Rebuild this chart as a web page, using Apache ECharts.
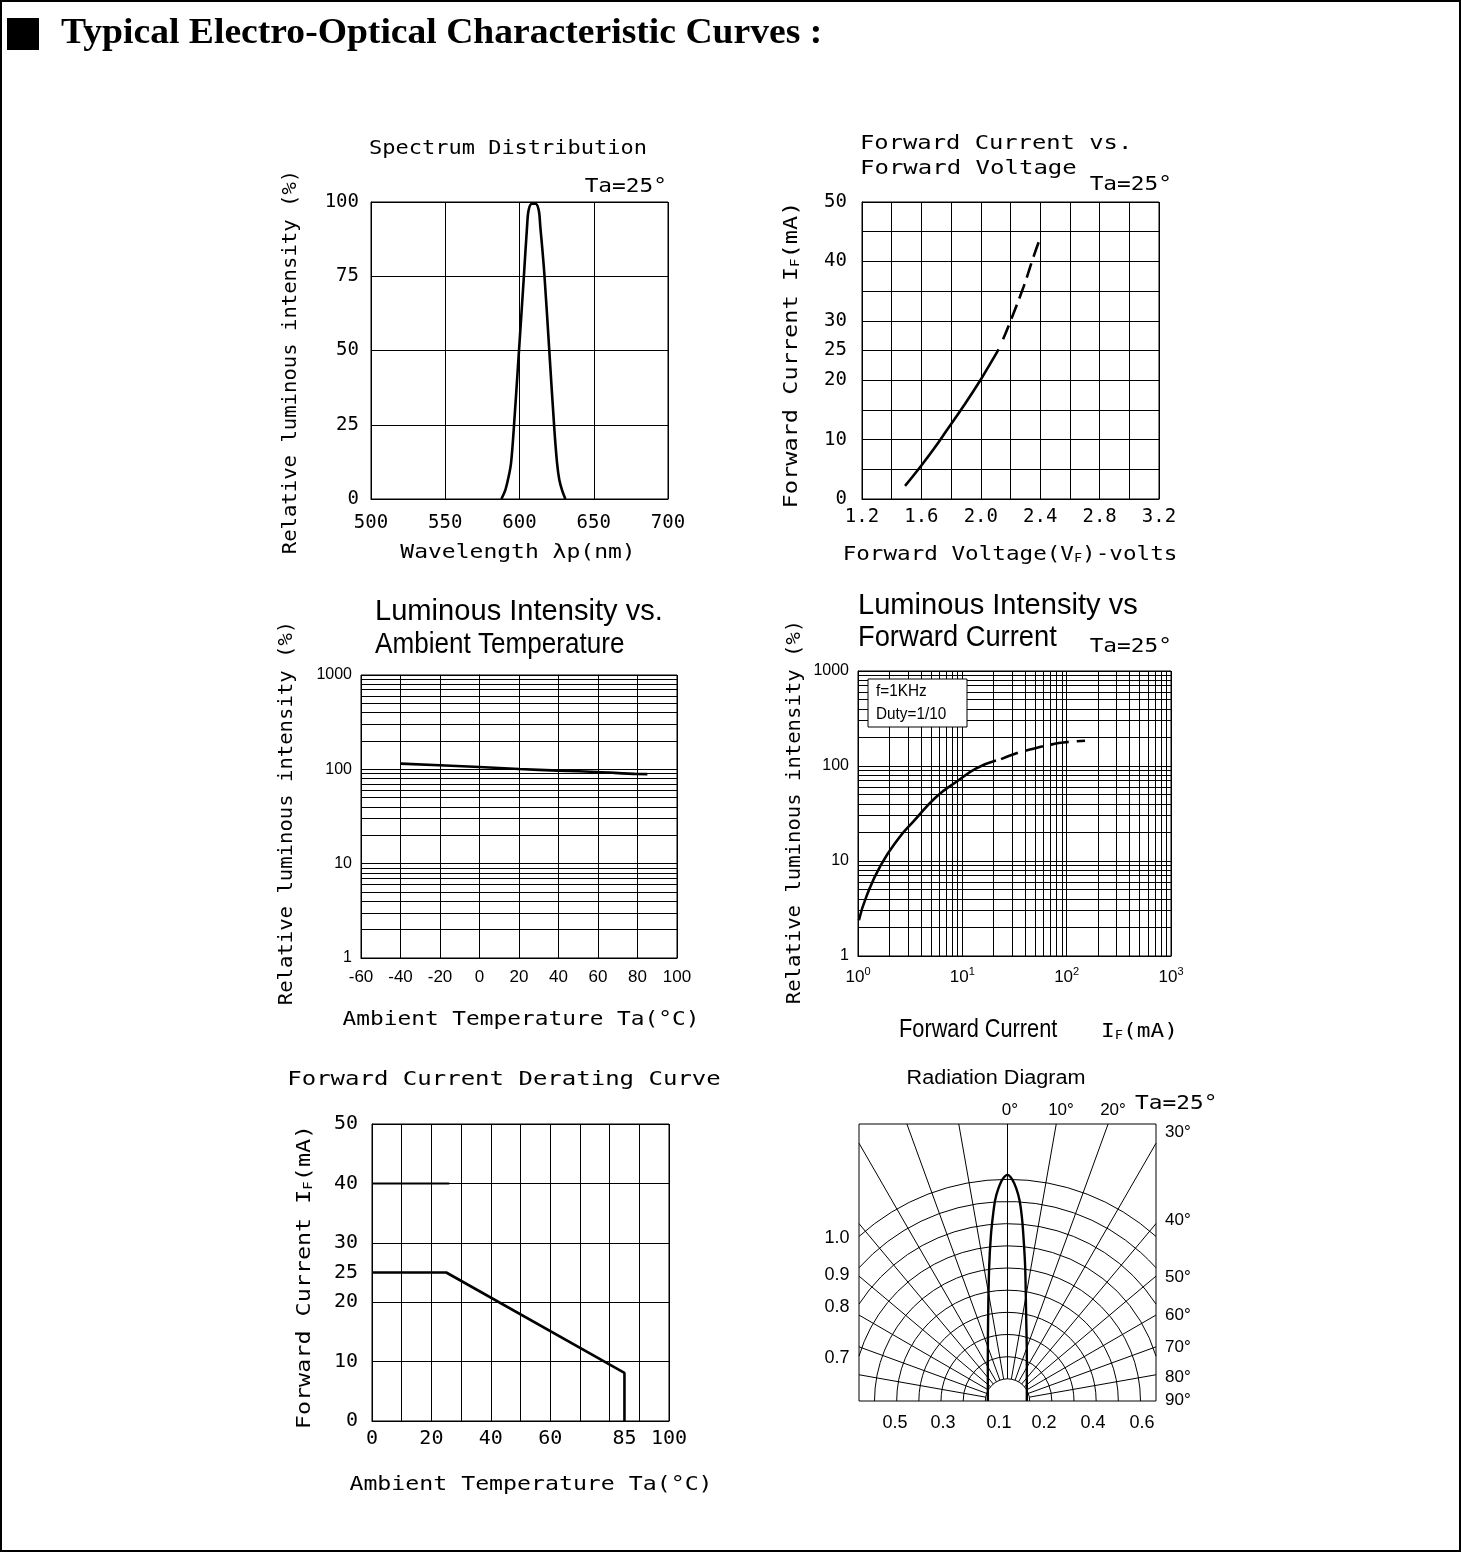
<!DOCTYPE html>
<html><head><meta charset="utf-8">
<script src="https://cdn.jsdelivr.net/npm/echarts@6/dist/echarts.min.js"></script>
<style>html,body{margin:0;padding:0;background:#fff}#c{width:1461px;height:1552px}</style>
</head><body><div id="c"></div>
<script>
// ---------------- DATA ----------------
const pageTitle = 'Typical Electro-Optical Characteristic Curves :';

// Spectrum distribution
const specWavelength = [587.8, 590.5, 592.7, 594.3, 596.1, 599.4, 602.8, 605.1, 606.2, 608.4, 610.7, 612.9, 614.0, 616.7, 620.3, 623.5, 625.3, 626.8, 628.6, 630.9];
const specRelative   = [0, 3.1, 7.6, 12.1, 23.3, 48, 73.8, 91.8, 97.4, 99.4, 99.4, 97.4, 91.8, 76, 48, 23.3, 12.1, 6.5, 3.1, 0];

// Forward current vs forward voltage
const fvSolidV = [1.49, 1.58, 1.683, 1.772, 1.885, 1.997, 2.064, 2.12];
const fvSolidI = [2.2, 5.0, 8.4, 11.6, 15.7, 20.0, 22.8, 25.2];
const fvDashV  = [2.15, 2.199, 2.289, 2.356, 2.396];
const fvDashI  = [26.9, 29.9, 35.8, 40.85, 43.66];
const fvXLabels = [1.2, 1.6, 2.0, 2.4, 2.8, 3.2];
const fvYLabels = [0, 10, 20, 25, 30, 40, 50];

// Luminous intensity vs ambient temperature
const tempT   = [-40, 0, 20, 40, 60, 80, 85];
const tempRel = [115, 106, 100.8, 96.8, 93.7, 89.2, 89];

// Luminous intensity vs forward current
const ifSolidI   = [1.02, 1.2, 1.65, 2.51, 3.37, 5.64, 8.78, 13.6, 21.0];
const ifSolidRel = [2.38, 4.19, 9.0, 17.9, 25.8, 47.4, 68.2, 94.2, 114];
const ifDashI    = [23.5, 34.3, 44.4, 74.3, 92.7, 150];
const ifDashRel  = [118, 138, 149, 170, 177, 184.5];

// Log grid minor ticks
const logDecades = [1, 10, 100];
const logMantissas = [2, 3, 4, 5, 6, 7, 8, 9];
const logMinorTicks = logDecades.flatMap(d => logMantissas.map(m => m * d));

// Derating curve
const deratT = [0, 25, 85, 85];
const deratI = [25, 25, 8.1, 0];
const limitT = [0, 26];
const limitI = [40, 40];
const deratXLabels = [0, 20, 40, 60, 85, 100];
const deratYLabels = [0, 10, 20, 25, 30, 40, 50];

// Radiation diagram (grid units: one ring spacing = 1)
const ringRadii = [1, 2, 3, 4, 5, 6, 7, 8, 9, 10];
const spokeAngles = [-80, -70, -60, -50, -40, -30, -20, -10, 0, 10, 20, 30, 40, 50, 60, 70, 80];
const lobeX = [-0.887, -0.887, -0.872, -0.827, -0.752, -0.662, -0.556, -0.406, -0.226, 0, 0.21, 0.39, 0.54, 0.647, 0.72, 0.797, 0.84, 0.872, 0.872];
const lobeY = [0, 1.985, 3.94, 6.04, 7.40, 8.30, 9.05, 9.58, 9.98, 10.18, 9.98, 9.58, 9.05, 8.30, 7.40, 6.04, 3.94, 1.985, 0];
const radXMax = 6.7, radYMax = 12.47;
const radTopLabels = ['0°', '10°', '20°'];
const radRightLabels = ['30°', '40°', '50°', '60°', '70°', '80°', '90°'];
const radLeftLabels = ['1.0', '0.9', '0.8', '0.7'];
const radBottomLabels = ['0.5', '0.3', '0.1', '0.2', '0.4', '0.6'];

// ---------------- STYLE ----------------
const MONO = "'DejaVu Sans Mono', monospace";
const NARROW = "'Liberation Sans', Arial, sans-serif";
const SANS = "'Liberation Sans', Arial, sans-serif";
const BLACK = '#000';
const axisLine = { show: true, lineStyle: { color: BLACK, width: 1 } };
const split = { show: true, lineStyle: { color: BLACK, width: 1, type: 'solid' } };
const noTick = { show: false };
const curve = { color: BLACK, width: 2.6 };

function lbl(fontFamily, fontSize, margin, formatter) {
  const o = { color: BLACK, fontFamily, fontSize, margin, showMinLabel: true, showMaxLabel: true };
  if (formatter) o.formatter = formatter;
  return o;
}
const inList = (list) => (v) => list.some(l => Math.abs(l - v) < 1e-6);
const plain = v => String(Math.round(v));

const grids = [
  { left: 371, top: 202, width: 297, height: 297 },
  { left: 862, top: 202, width: 297, height: 297 },
  { left: 361, top: 675, width: 316, height: 283 },
  { left: 858, top: 671, width: 313, height: 285 },
  { left: 372, top: 1124, width: 297, height: 297 },
  { left: 859, top: 1124, width: 297, height: 277 }
].map(g => Object.assign({ show: true, borderColor: BLACK, borderWidth: 1, backgroundColor: 'transparent', containLabel: false }, g));

const xAxis = [
  { gridIndex: 0, type: 'value', min: 500, max: 700, interval: 50, axisLine, axisTick: noTick, splitLine: split, axisLabel: lbl(MONO, 19, 15) },
  { gridIndex: 1, type: 'value', min: 1.2, max: 3.2, interval: 0.2, axisLine, axisTick: noTick, splitLine: split,
    axisLabel: lbl(MONO, 19, 9, v => inList(fvXLabels)(v) ? v.toFixed(1) : '') },
  { gridIndex: 2, type: 'value', min: -60, max: 100, interval: 20, axisLine, axisTick: noTick, splitLine: split, axisLabel: lbl(NARROW, 17, 11) },
  { gridIndex: 3, type: 'log', logBase: 10, min: 1, max: 1000, axisLine, axisTick: noTick, splitLine: split,
    axisLabel: Object.assign(lbl(NARROW, 17, 10, v => '{b|10}{s|' + Math.round(Math.log10(v)) + '}'), {
      rich: { b: { fontFamily: NARROW, fontSize: 17, color: BLACK, lineHeight: 22 },
              s: { fontFamily: NARROW, fontSize: 11, color: BLACK, verticalAlign: 'top', lineHeight: 22 } } }) },
  { gridIndex: 4, type: 'value', position: 'bottom', min: 0, max: 100, interval: 10, axisLine, axisTick: noTick, splitLine: split,
    axisLabel: lbl(MONO, 20, 8, v => inList(deratXLabels)(v) ? String(v) : '') },
  { gridIndex: 4, type: 'value', position: 'bottom', offset: 0, min: 0, max: 100, interval: 5, axisLine: { show: false }, axisTick: noTick, splitLine: { show: false },
    axisLabel: lbl(MONO, 20, 8, v => (inList(deratXLabels)(v) && v % 10 !== 0) ? String(v) : '') },
  { gridIndex: 5, type: 'value', min: -radXMax, max: radXMax, show: false }
];

const yAxis = [
  { gridIndex: 0, type: 'value', min: 0, max: 100, interval: 25, axisLine, axisTick: noTick, splitLine: split, axisLabel: lbl(MONO, 19, 12) },
  { gridIndex: 1, type: 'value', min: 0, max: 50, interval: 5, axisLine, axisTick: noTick, splitLine: split,
    axisLabel: lbl(MONO, 19, 15, v => inList(fvYLabels)(v) ? String(v) : '') },
  { gridIndex: 2, type: 'log', logBase: 10, min: 1, max: 1000, axisLine, axisTick: noTick, splitLine: split, axisLabel: lbl(NARROW, 16, 9, plain) },
  { gridIndex: 3, type: 'log', logBase: 10, min: 1, max: 1000, axisLine, axisTick: noTick, splitLine: split, axisLabel: lbl(NARROW, 16, 9, plain) },
  { gridIndex: 4, type: 'value', position: 'left', min: 0, max: 50, interval: 10, axisLine, axisTick: noTick, splitLine: split,
    axisLabel: lbl(MONO, 20, 14, v => inList(deratYLabels)(v) ? String(v) : '') },
  { gridIndex: 4, type: 'value', position: 'left', offset: 0, min: 0, max: 50, interval: 25, axisLine: { show: false }, axisTick: noTick, splitLine: { show: false },
    axisLabel: lbl(MONO, 20, 14, v => (inList(deratYLabels)(v) && v % 10 !== 0) ? String(v) : '') },
  { gridIndex: 5, type: 'value', min: 0, max: radYMax, show: false }
];

const zip = (a, b) => a.map((v, i) => [v, b[i]]);
const minorLine = (list, key) => list.map(v => ({ [key]: v }));
const markLineBase = { silent: true, symbol: ['none', 'none'], label: { show: false }, animation: false,
  lineStyle: { color: BLACK, width: 1, type: 'solid', opacity: 1 }, emphasis: { disabled: true } };

const series = [
  { type: 'line', xAxisIndex: 0, yAxisIndex: 0, data: zip(specWavelength, specRelative), smooth: 0.35, symbol: 'none', lineStyle: curve },
  { type: 'line', xAxisIndex: 1, yAxisIndex: 1, data: zip(fvSolidV, fvSolidI), smooth: 0.5, symbol: 'none', lineStyle: curve },
  { type: 'line', xAxisIndex: 1, yAxisIndex: 1, data: zip(fvDashV, fvDashI), smooth: 0.5, symbol: 'none', lineStyle: Object.assign({ type: [15, 7] }, curve) },
  { type: 'line', xAxisIndex: 2, yAxisIndex: 2, data: zip(tempT, tempRel), smooth: 0.3, symbol: 'none', lineStyle: curve, z: 3,
    markLine: Object.assign({ data: minorLine(logMinorTicks, 'yAxis') }, markLineBase) },
  { type: 'line', xAxisIndex: 3, yAxisIndex: 3, data: zip(ifSolidI, ifSolidRel), smooth: 0.5, symbol: 'none', lineStyle: curve,
    markLine: Object.assign({ data: minorLine(logMinorTicks, 'xAxis').concat(minorLine(logMinorTicks, 'yAxis')) }, markLineBase) },
  { type: 'line', xAxisIndex: 3, yAxisIndex: 3, data: zip(ifDashI, ifDashRel), smooth: 0.5, symbol: 'none', lineStyle: Object.assign({ type: [18, 8] }, curve) },
  { type: 'line', xAxisIndex: 4, yAxisIndex: 4, data: zip(deratT, deratI), symbol: 'none', lineStyle: curve },
  { type: 'line', xAxisIndex: 4, yAxisIndex: 4, data: zip(limitT, limitI), symbol: 'none', lineStyle: { color: BLACK, width: 2 } },
  { type: 'custom', xAxisIndex: 6, yAxisIndex: 6, silent: true, data: ringRadii.map(r => [0, 0, r]),
    renderItem: (params, api) => {
      const r = api.value(2);
      const c = api.coord([0, 0]);
      const rp = api.size([r, 0])[0];
      const half = api.size([radXMax, 0])[0];
      const th = rp > half ? Math.acos(half / rp) : 0;
      return { type: 'arc', shape: { cx: c[0], cy: c[1], r: rp, startAngle: Math.PI + th, endAngle: 2 * Math.PI - th, clockwise: true },
               style: { stroke: BLACK, lineWidth: 1, fill: null } };
    } },
  { type: 'custom', xAxisIndex: 6, yAxisIndex: 6, silent: true, data: spokeAngles.map(a => [0, 0, a]),
    renderItem: (params, api) => {
      const a = api.value(2) * Math.PI / 180;
      const s = Math.sin(a), co = Math.cos(a);
      const tx = Math.abs(s) > 1e-9 ? radXMax / Math.abs(s) : Infinity;
      const ty = co > 1e-9 ? radYMax / co : Infinity;
      const t = Math.min(tx, ty);
      const r0 = ringRadii[0];
      const p1 = api.coord([s * r0, co * r0]);
      const p2 = api.coord([s * t, co * t]);
      return { type: 'line', shape: { x1: p1[0], y1: p1[1], x2: p2[0], y2: p2[1] }, style: { stroke: BLACK, lineWidth: 1 } };
    } },
  { type: 'line', xAxisIndex: 6, yAxisIndex: 6, data: zip(lobeX, lobeY), smooth: 0.3, symbol: 'none', lineStyle: { color: BLACK, width: 2.4 }, z: 5 }
];

// ---------------- TEXT (graphic) ----------------
function T(x, y, text, fontFamily, fontSize, opt) {
  opt = opt || {};
  const style = { text, fontFamily, fontSize, fontWeight: opt.weight || 'normal', fill: BLACK,
                  align: opt.align || 'center', verticalAlign: opt.va || 'middle' };
  if (opt.rich) style.rich = opt.rich;
  return { type: 'text', x, y, rotation: opt.rot || 0, scaleX: opt.sx || 1, z: 100, silent: true, style };
}
const ROT = Math.PI / 2;
const subRich = { a: { fontFamily: MONO, fontSize: 20, fill: BLACK }, s: { fontFamily: MONO, fontSize: 12, fill: BLACK, verticalAlign: 'bottom' } };
const ifName = '{a|Forward Current I}{s|F}{a|(mA)}';

const graphic = [
  { type: 'rect', shape: { x: 1, y: 1, width: 1459, height: 1550 }, style: { fill: null, stroke: BLACK, lineWidth: 2 }, z: 100, silent: true },
  { type: 'rect', shape: { x: 7, y: 18, width: 32, height: 32 }, style: { fill: BLACK }, z: 100, silent: true },
  T(61, 34, pageTitle, "'Liberation Serif', 'Times New Roman', serif", 36, { align: 'left', weight: 'bold', sx: 1.045 }),

  // panel 1
  T(508, 149, 'Spectrum Distribution', MONO, 20, { sx: 1.1 }),
  T(667, 187, 'Ta=25°', MONO, 20, { align: 'right', sx: 1.14 }),
  T(291, 362, 'Relative luminous intensity (%)', MONO, 20, { rot: ROT, sx: 1.03 }),
  T(518, 553, 'Wavelength λp(nm)', MONO, 20, { sx: 1.15 }),

  // panel 2
  T(860, 144, 'Forward Current vs.', MONO, 20, { align: 'left', sx: 1.19 }),
  T(860, 169, 'Forward Voltage', MONO, 20, { align: 'left', sx: 1.2 }),
  T(1172, 185, 'Ta=25°', MONO, 20, { align: 'right', sx: 1.14 }),
  T(792, 355, ifName, MONO, 20, { rot: ROT, sx: 1.18, rich: subRich }),
  T(1010, 555, '{a|Forward Voltage(V}{s|F}{a|)-volts}', MONO, 20, { sx: 1.13, rich: subRich }),

  // panel 3
  T(375, 612, 'Luminous Intensity vs.', SANS, 30, { align: 'left', sx: 0.97 }),
  T(375, 645, 'Ambient Temperature', SANS, 30, { align: 'left', sx: 0.87 }),
  T(287, 813, 'Relative luminous intensity (%)', MONO, 20, { rot: ROT, sx: 1.03 }),
  T(521, 1020, 'Ambient Temperature Ta(°C)', MONO, 20, { sx: 1.14 }),

  // panel 4
  T(858, 606, 'Luminous Intensity vs', SANS, 30, { align: 'left', sx: 0.97 }),
  T(858, 638, 'Forward Current', SANS, 30, { align: 'left', sx: 0.91 }),
  T(1172, 647, 'Ta=25°', MONO, 20, { align: 'right', sx: 1.14 }),
  T(795, 812, 'Relative luminous intensity (%)', MONO, 20, { rot: ROT, sx: 1.03 }),
  T(899, 1030, 'Forward Current', SANS, 25, { align: 'left', sx: 0.87 }),
  T(1101, 1032, '{a|I}{s|F}{a|(mA)}', MONO, 20, { align: 'left', sx: 1.14, rich: subRich }),
  { type: 'rect', shape: { x: 868, y: 679, width: 99, height: 48 }, style: { fill: '#fff', stroke: BLACK, lineWidth: 1 }, z: 99, silent: true },
  T(876, 691, 'f=1KHz', SANS, 17, { align: 'left', sx: 0.9 }),
  T(876, 714, 'Duty=1/10', SANS, 17, { align: 'left', sx: 0.9 }),

  // panel 5
  T(504, 1080, 'Forward Current Derating Curve', MONO, 20, { sx: 1.2 }),
  T(305, 1277, ifName, MONO, 20, { rot: ROT, sx: 1.17, rich: subRich }),
  T(531, 1485, 'Ambient Temperature Ta(°C)', MONO, 20, { sx: 1.16 }),

  // panel 6
  T(996, 1078, 'Radiation Diagram', SANS, 20, { sx: 1.08 }),
  T(1135, 1104, 'Ta=25°', MONO, 20, { align: 'left', sx: 1.14 })
];
[1010, 1061, 1113].forEach((x, i) => graphic.push(T(x, 1110, radTopLabels[i], SANS, 17)));
[1132, 1220, 1277, 1315, 1347, 1377, 1400].forEach((y, i) => graphic.push(T(1165, y, radRightLabels[i], SANS, 17, { align: 'left' })));
[1238, 1275, 1307, 1358].forEach((y, i) => graphic.push(T(837, y, radLeftLabels[i], SANS, 18)));
[895, 943, 999, 1044, 1093, 1142].forEach((x, i) => graphic.push(T(x, 1423, radBottomLabels[i], SANS, 18)));

const chart = echarts.init(document.getElementById('c'), null, { renderer: 'canvas' });
chart.setOption({
  backgroundColor: '#fff',
  animation: false,
  grid: grids,
  xAxis, yAxis, series, graphic
});
</script>
</body></html>
